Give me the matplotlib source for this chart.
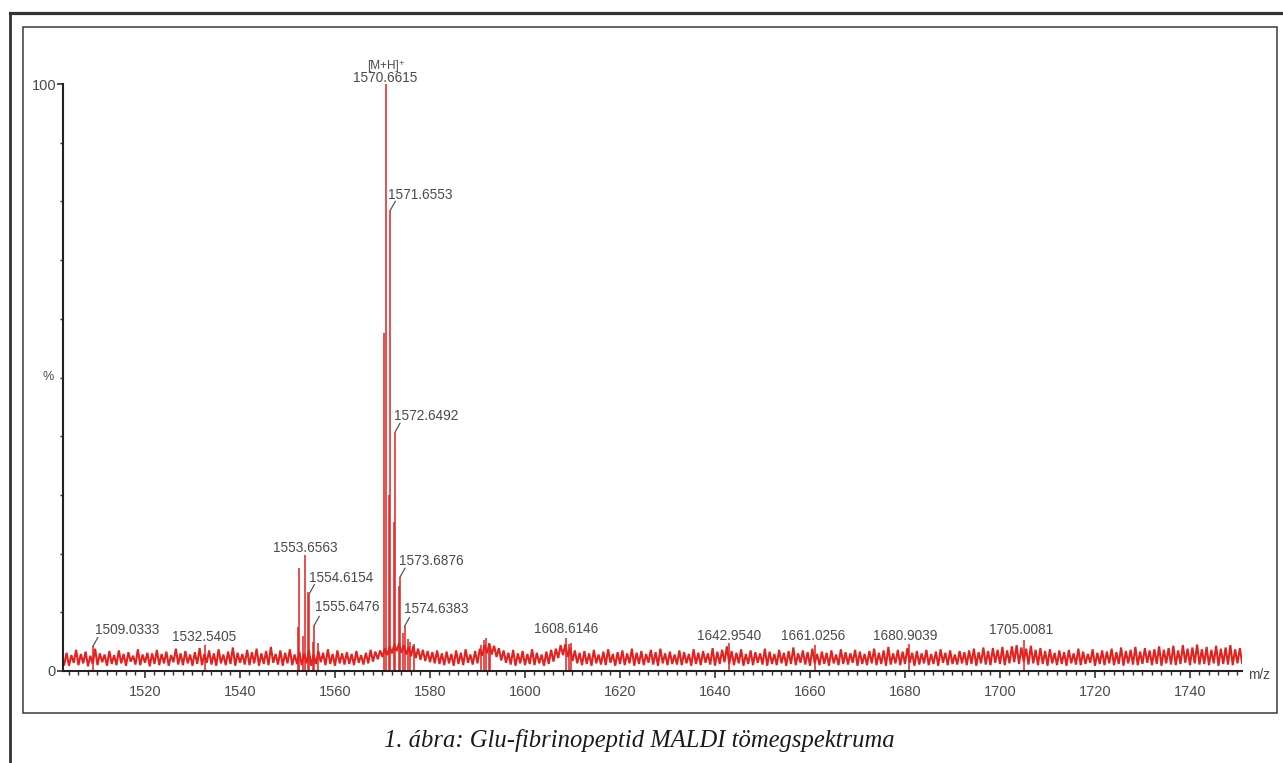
import numpy as np
import matplotlib
matplotlib.use("Agg")
import matplotlib.pyplot as plt
from matplotlib.lines import Line2D
from matplotlib.patches import Rectangle

# ---------------- data ----------------
# baseline noise (tenths of %), sampled every 0.5 m/z from 1503.0
noise_start = 1503.0
noise_step = 0.5
noise_tenths = [
    11,31,9,27,14,36,10,29,13,33,8,26,12,38,10,30,15,28,9,34,
    12,27,10,35,13,29,9,32,16,26,11,37,10,28,14,31,8,30,12,36,
    10,29,13,33,9,27,15,38,11,30,10,34,13,28,9,32,12,39,10,29,
    14,35,11,30,9,37,13,28,10,33,12,40,9,31,14,29,11,36,10,32,
    13,38,9,30,12,34,10,41,14,29,11,35,9,31,13,37,10,28,12,33,
    10,30,13,36,9,28,12,34,15,31,10,37,12,29,9,35,13,30,11,32,
    12,29,10,34,14,27,11,31,13,36,16,33,20,35,24,39,27,42,30,45,
    34,47,31,44,28,41,25,43,22,38,19,36,17,34,15,32,13,35,12,30,
    10,33,13,29,9,35,12,31,10,37,14,28,11,34,13,38,26,44,30,47,
    28,43,24,39,18,35,14,31,11,36,9,30,13,34,10,29,12,37,10,31,
    13,28,9,33,12,36,16,38,22,44,27,46,24,40,17,35,13,31,10,34,
    12,30,9,36,13,28,11,33,10,37,14,29,9,32,12,35,10,30,13,38,
    9,31,12,34,10,29,14,36,11,32,9,38,13,30,10,33,12,28,11,35,
    10,32,13,29,9,37,12,31,10,34,14,30,11,39,9,33,12,36,15,42,
    12,34,10,31,13,37,9,29,12,35,10,32,14,30,11,38,9,33,12,29,
    10,36,13,31,9,34,12,40,10,30,14,35,11,32,9,38,13,29,10,33,
    12,31,9,35,13,28,10,37,12,32,11,30,14,36,9,33,12,29,10,34,
    13,38,10,31,12,35,9,41,11,30,13,36,10,33,12,39,14,31,9,34,
    11,30,13,36,10,29,12,33,9,37,14,31,10,35,12,28,11,34,13,32,
    10,35,12,38,9,32,13,40,11,34,10,39,14,36,12,41,10,35,13,42,
    15,44,12,40,16,38,11,43,13,36,10,39,12,34,9,37,13,31,10,35,
    12,32,9,36,13,30,11,38,10,33,12,29,14,37,9,31,12,35,10,33,
    13,38,10,32,12,40,9,34,13,36,11,41,10,33,12,39,14,35,10,37,
    12,42,9,36,13,39,11,43,10,35,12,44,14,38,10,40,13,45,11,37,
    12,41,10,36,13,43,9,38,12,40,11,44,10,37,13,39,12,42,10,36,
]

# peak sticks (m/z, relative intensity %)
peak_mz = [1509.03, 1532.54,
           1552.20, 1552.50, 1553.35, 1553.66, 1554.30, 1554.62, 1555.35, 1555.65, 1556.40,
           1570.35, 1570.66, 1571.35, 1571.66, 1572.40, 1572.65, 1573.40, 1573.69,
           1574.40, 1574.64, 1575.40, 1575.70, 1576.60,
           1590.70, 1591.40, 1591.70, 1592.40, 1592.70,
           1608.61, 1609.30, 1609.60,
           1642.95, 1661.03, 1680.90, 1705.01]
peak_int = [4.2, 4.4,
            7.5, 17.6, 6.0, 19.8, 13.5, 13.2, 5.0, 7.8, 4.8,
            57.5, 100.0, 30.0, 78.5, 25.4, 40.7, 14.5, 16.0,
            6.5, 7.6, 5.5, 5.0, 4.6,
            4.4, 5.2, 5.6, 4.8, 4.2,
            5.7, 4.6, 4.8,
            4.8, 4.5, 4.6, 5.2]

# labelled peaks
label_text = ["1509.0333", "1532.5405", "1553.6563", "1554.6154", "1555.6476",
              "1570.6615", "1571.6553", "1572.6492", "1573.6876", "1574.6383",
              "1608.6146", "1642.9540", "1661.0256", "1680.9039", "1705.0081"]
label_mz = [1509.03, 1532.54, 1553.66, 1554.62, 1555.65,
            1570.66, 1571.66, 1572.65, 1573.69, 1574.64,
            1608.61, 1642.95, 1661.03, 1680.90, 1705.01]
label_int = [4.2, 4.4, 19.8, 13.2, 7.8,
             100.0, 78.5, 40.7, 16.0, 7.6,
             5.7, 4.8, 4.5, 4.6, 5.2]
ion_label = "[M+H]\u207a"

x_major = [1520, 1540, 1560, 1580, 1600, 1620, 1640, 1660, 1680, 1700, 1720, 1740]
y_labels = {0: "0", 100: "100"}

caption = "1. ábra: Glu-fibrinopeptid MALDI tömegspektruma"

# --------------- layout / style ---------------
W, H = 1283, 763
label_mode = ["r", "c", "c", "r", "r",
              "c", "r", "r", "r", "r",
              "c", "c", "c", "c", "c"]
# text offsets in pixels (dx, dy of baseline)
label_off = [(2, 12), (0, 4), (0, 3), (0, 12), (1, 14),
             (0, 2), (-2, 11), (-1, 12), (-1, 12), (-1, 13),
             (0, 5), (0, 3), (-2, 5), (-4, 4), (-3, 6)]

RED = "#e3211f"
GREY = "#4a4a4a"
LABEL_FONT = ["Liberation Sans", "DejaVu Sans"]

fig = plt.figure(figsize=(W / 100, H / 100), dpi=100)
fig.patch.set_facecolor("white")

ax_l, ax_r = 63 / W, 1242 / W
ax_b, ax_t = 1 - 671 / H, 1 - 84 / H
ax = fig.add_axes([ax_l, ax_b, ax_r - ax_l, ax_t - ax_b])
ax.set_xlim(1502.74, 1750.95)
ax.set_ylim(0, 100)

# noise
nx = noise_start + noise_step * np.arange(len(noise_tenths))
ny = np.array(noise_tenths) / 10.0
ax.plot(nx, ny, color=RED, lw=1.5, solid_joinstyle="miter")
# peaks
ax.vlines(peak_mz, 0, peak_int, color=RED, lw=1.1)

# labels
for t, mz, h, mode, (dx, dy) in zip(label_text, label_mz, label_int, label_mode, label_off):
    if mode == "c":
        ax.annotate(t, xy=(mz, h), xytext=(dx, dy), textcoords="offset pixels",
                    ha="center", va="baseline", fontsize=9.8, color=GREY,
                    family=LABEL_FONT, annotation_clip=False)
    else:
        ax.annotate(t, xy=(mz, h), xytext=(dx, dy), textcoords="offset pixels",
                    ha="left", va="baseline", fontsize=9.8, color=GREY,
                    family=LABEL_FONT, annotation_clip=False)
        ax.annotate("", xy=(mz, h), xytext=(5, 9), textcoords="offset pixels",
                    arrowprops=dict(arrowstyle="-", color="#555555", lw=0.9,
                                    shrinkA=0, shrinkB=0),
                    annotation_clip=False)
ax.annotate(ion_label, xy=(label_mz[5], label_int[5]), xytext=(0, 15),
            textcoords="offset pixels", ha="center", va="baseline",
            fontsize=8.5, color=GREY, family=LABEL_FONT, annotation_clip=False)

# axes style
for s in ("top", "right"):
    ax.spines[s].set_visible(False)
for s in ("left", "bottom"):
    ax.spines[s].set_linewidth(1.5)
    ax.spines[s].set_color("#222222")

ax.set_xticks(x_major)
ax.set_xticklabels([str(v) for v in x_major])
ax.set_xticks(np.arange(1504, 1751, 2), minor=True)
ax.tick_params(axis="x", which="major", length=5, width=1.2, color="#333333",
               pad=5, labelsize=10.5, labelcolor=GREY)
ax.tick_params(axis="x", which="minor", length=3, width=1.0, color="#333333")

ax.set_yticks(list(y_labels.keys()))
ax.set_yticklabels(list(y_labels.values()))
ax.set_yticks(np.arange(10, 100, 10), minor=True)
ax.tick_params(axis="y", which="major", length=4, width=1.2, color="#333333",
               pad=1, labelsize=10.5, labelcolor=GREY)
ax.tick_params(axis="y", which="minor", length=2, width=1.0, color="#333333")
for lab in ax.get_xticklabels() + ax.get_yticklabels():
    lab.set_family(LABEL_FONT)

ax.annotate("%", xy=(0, 50), xycoords=("axes fraction", "data"), xytext=(-9, 0),
            textcoords="offset pixels", ha="right", va="center", fontsize=9,
            color=GREY, family=LABEL_FONT, annotation_clip=False)
ax.annotate("m/z", xy=(1, 0), xycoords="axes fraction", xytext=(6, -4),
            textcoords="offset pixels", ha="left", va="center", fontsize=9.8,
            color=GREY, family=LABEL_FONT, annotation_clip=False)

# frames
fig.add_artist(Line2D([10 / W, 1.0], [1 - 12.5 / H, 1 - 12.5 / H],
                      transform=fig.transFigure, color="#333333", lw=2.3))
fig.add_artist(Line2D([10 / W, 10 / W], [0, 1 - 12.5 / H],
                      transform=fig.transFigure, color="#333333", lw=2.0))
fig.add_artist(Rectangle((23 / W, 1 - 712.5 / H), (1277 - 23) / W, (712.5 - 26.5) / H,
                         transform=fig.transFigure, fill=False,
                         edgecolor="#3a3a3a", lw=1.1))

fig.text(639 / W, 1 - 740 / H, caption, ha="center", va="center",
         fontsize=17.7, style="italic", family=["Liberation Serif", "DejaVu Serif"],
         color="#1a1a1a")

fig.savefig("out.png", dpi=100, facecolor="white")
